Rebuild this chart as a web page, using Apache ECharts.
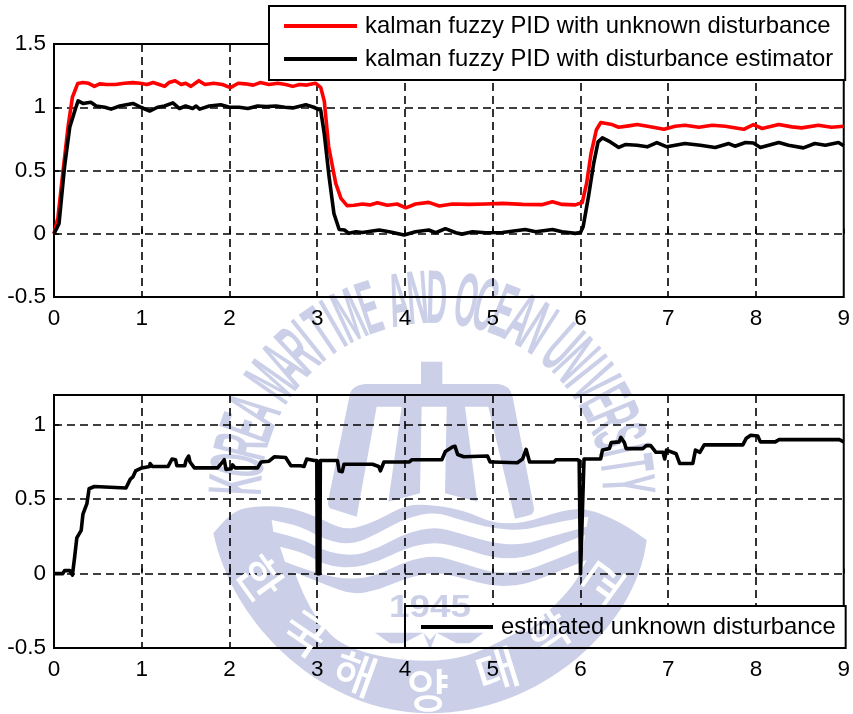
<!DOCTYPE html>
<html><head><meta charset="utf-8">
<style>html,body{margin:0;padding:0;background:#fff}#c{width:853px;height:714px}</style>
<script src="https://cdn.jsdelivr.net/npm/echarts@6/dist/echarts.min.js"></script>
</head><body><div id="c"></div>
<script>
const xTicks = {min:0,max:9,interval:1};
const redName = 'kalman fuzzy PID with unknown disturbance';
const blackName = 'kalman fuzzy PID with disturbance estimator';
const estName = 'estimated unknown disturbance';

const redTrace = [[0,0],[0.045,0.13],[0.1,0.476],[0.16,0.845],[0.21,1.08],[0.27,1.187],[0.33,1.195],[0.39,1.19],[0.46,1.165],[0.52,1.185],[0.6,1.18],[0.7,1.18],[0.8,1.19],[0.9,1.195],[0.98,1.19],[1.06,1.18],[1.13,1.195],[1.2,1.18],[1.26,1.165],[1.31,1.195],[1.38,1.21],[1.45,1.18],[1.5,1.19],[1.56,1.165],[1.65,1.21],[1.72,1.18],[1.82,1.19],[1.92,1.18],[2.01,1.155],[2.1,1.19],[2.18,1.185],[2.27,1.175],[2.35,1.195],[2.45,1.18],[2.55,1.19],[2.64,1.18],[2.72,1.165],[2.8,1.18],[2.88,1.175],[2.98,1.19],[3.04,1.155],[3.08,1.05],[3.13,0.69],[3.21,0.4],[3.27,0.28],[3.34,0.222],[3.42,0.225],[3.515,0.235],[3.6,0.228],[3.685,0.245],[3.8,0.225],[3.91,0.235],[4.01,0.205],[4.12,0.235],[4.27,0.248],[4.39,0.22],[4.54,0.235],[4.73,0.232],[4.92,0.235],[5.11,0.24],[5.34,0.232],[5.56,0.23],[5.68,0.253],[5.79,0.232],[5.94,0.228],[6.02,0.247],[6.07,0.4],[6.12,0.634],[6.18,0.82],[6.23,0.879],[6.36,0.863],[6.436,0.842],[6.55,0.853],[6.645,0.863],[6.78,0.848],[6.95,0.826],[7.08,0.85],[7.19,0.858],[7.35,0.842],[7.5,0.858],[7.65,0.85],[7.86,0.826],[7.97,0.863],[8.07,0.832],[8.26,0.863],[8.41,0.845],[8.52,0.837],[8.71,0.858],[8.86,0.842],[9,0.85]];

const blackTrace = [[0,0],[0.057,0.08],[0.12,0.53],[0.18,0.845],[0.25,1.0],[0.275,1.05],[0.33,1.03],[0.42,1.04],[0.48,1.01],[0.58,1.0],[0.65,0.985],[0.75,1.01],[0.9,1.03],[0.99,1.0],[1.09,0.97],[1.18,1.0],[1.26,1.01],[1.355,1.035],[1.43,0.99],[1.5,1.01],[1.58,0.99],[1.62,1.01],[1.66,0.985],[1.77,1.01],[1.9,1.02],[2.0,1.0],[2.11,1.0],[2.21,0.99],[2.32,1.01],[2.42,1.005],[2.53,1.01],[2.63,1.0],[2.72,0.995],[2.87,1.02],[2.96,1.0],[3.04,0.975],[3.08,0.79],[3.135,0.45],[3.19,0.16],[3.25,0.034],[3.31,0.03],[3.36,0.003],[3.44,0.016],[3.515,0.01],[3.705,0.03],[3.82,0.016],[3.99,-0.01],[4.12,0.016],[4.27,0.03],[4.35,0.008],[4.46,0.04],[4.58,0.008],[4.65,-0.003],[4.77,0.016],[4.92,0.008],[5.11,0.01],[5.37,0.034],[5.49,0.016],[5.68,0.034],[5.79,0.016],[5.94,0.003],[6.0,0.01],[6.03,0.055],[6.09,0.29],[6.15,0.555],[6.2,0.726],[6.25,0.758],[6.34,0.726],[6.436,0.682],[6.51,0.705],[6.645,0.7],[6.76,0.687],[6.87,0.721],[6.985,0.687],[7.19,0.713],[7.365,0.7],[7.535,0.682],[7.69,0.713],[7.76,0.692],[7.88,0.721],[7.97,0.718],[8.05,0.682],[8.26,0.721],[8.37,0.7],[8.54,0.679],[8.67,0.713],[8.79,0.7],[8.94,0.721],[9,0.695]];

const estimateTrace = [[0,0],[0.1,0],[0.12,0.02],[0.18,0.02],[0.21,-0.01],[0.235,0.11],[0.26,0.24],[0.31,0.29],[0.33,0.4],[0.375,0.47],[0.4,0.57],[0.46,0.585],[0.48,0.575],[0.82,0.575],[0.87,0.635],[0.9,0.65],[0.93,0.69],[1.0,0.71],[1.09,0.72],[1.095,0.74],[1.12,0.72],[1.3,0.72],[1.345,0.77],[1.385,0.765],[1.4,0.725],[1.49,0.725],[1.505,0.76],[1.535,0.79],[1.55,0.75],[1.57,0.76],[1.6,0.71],[1.865,0.71],[1.9,0.735],[1.94,0.765],[1.96,0.7],[2.02,0.705],[2.035,0.73],[2.05,0.735],[2.065,0.71],[2.32,0.71],[2.36,0.75],[2.45,0.755],[2.51,0.785],[2.64,0.78],[2.7,0.725],[2.81,0.725],[2.85,0.72],[2.88,0.77],[2.965,0.76],[2.995,0.76],[3.0,0],[3.03,0],[3.035,0.76],[3.23,0.76],[3.25,0.69],[3.285,0.685],[3.305,0.735],[3.63,0.735],[3.7,0.72],[3.72,0.69],[3.76,0.75],[4.05,0.75],[4.08,0.765],[4.42,0.765],[4.46,0.82],[4.54,0.85],[4.57,0.855],[4.6,0.8],[4.67,0.785],[4.94,0.79],[4.97,0.75],[5.0,0.75],[5.28,0.745],[5.34,0.77],[5.38,0.835],[5.42,0.75],[5.7,0.75],[5.72,0.765],[5.73,0.76],[5.96,0.765],[5.985,0.76],[6.0,0],[6.015,0],[6.04,0.77],[6.23,0.77],[6.25,0.83],[6.33,0.84],[6.35,0.88],[6.44,0.885],[6.46,0.915],[6.5,0.88],[6.52,0.84],[6.71,0.84],[6.75,0.86],[6.8,0.86],[6.86,0.815],[6.94,0.815],[6.96,0.77],[6.98,0.83],[7.09,0.805],[7.13,0.74],[7.28,0.74],[7.31,0.83],[7.36,0.815],[7.41,0.865],[7.85,0.865],[7.89,0.91],[7.94,0.93],[8.02,0.925],[8.05,0.885],[8.22,0.885],[8.26,0.9],[8.95,0.9],[9,0.885]];

const FONT = '"Liberation Sans", Arial, sans-serif';
const WM = '#cbd0e8';

// ---------- faint institutional seal behind the plot ----------
const wmScale = 1/3, wmX = 190, wmY = 260;
function curve(pts, move){
  let d = (move?'M':'L')+pts[0][0]+' '+pts[0][1];
  for (let i=1;i<pts.length-1;i++){
    const mx=(pts[i][0]+pts[i+1][0])/2, my=(pts[i][1]+pts[i+1][1])/2;
    d += 'Q'+pts[i][0]+' '+pts[i][1]+' '+mx+' '+my;
  }
  const e = pts[pts.length-1];
  return d+'L'+e[0]+' '+e[1];
}
function hole(top,bottom){ return curve(top.slice().reverse(),true)+curve(bottom,false)+'Z'; }
const anchor = 'M693 305H757V372H925Q960 375 968 410L1032 745Q1034 765 1010 768L975 776L895 440H825L862 725L765 700L770 440H695L690 700L595 725L635 440H560L500 770L420 745Q412 735 415 720L480 400Q490 375 525 372H693Z';
const sealTop = [[70,820],[110,770],[165,740],[285,738],[380,770],[450,805],[495,805],[565,780],[645,735],[720,733],[820,750],[910,790],[1000,790],[1120,750],[1190,745],[1290,785],[1370,840]];
const sealOuter = curve(sealTop,true)+'C1340 1100 1050 1360 720 1360C400 1360 130 1100 70 820Z';
const stripe1 = hole(
  [[245,780],[335,800],[405,840],[485,855],[565,820],[645,775],[735,755],[810,780],[910,805],[1000,812],[1080,790],[1195,770]],
  [[250,815],[335,835],[395,870],[485,890],[565,865],[645,820],[735,800],[810,820],[910,850],[1000,855],[1080,830],[1190,800]]);
const stripe2 = hole(
  [[270,860],[345,880],[405,915],[485,925],[565,905],[645,865],[735,845],[820,865],[910,895],[1000,895],[1080,865],[1185,825]],
  [[285,905],[375,940],[485,960],[565,945],[645,905],[735,885],[820,910],[910,940],[1000,935],[1080,905],[1180,865]]);
const stripe3 = hole(
  [[310,935],[385,965],[485,1005],[565,990],[645,955],[735,935],[820,955],[910,980],[1000,975],[1080,945],[1190,900]],
  [[315,940],[345,1020],[405,1110],[465,1160],[590,1195],[720,1205],[830,1190],[920,1150],[1050,1080],[1150,980],[1190,900]]);
const ship = 'M555 1118H700L640 1150H600ZM740 1118H880L840 1150H800ZM700 1118L720 1170L740 1118L720 1140Z';
[['wmAnchor',anchor],['wmSeal',sealOuter+stripe1+stripe2+stripe3],['wmShip',ship]].forEach(p=>echarts.graphic.registerShape(p[0],echarts.graphic.extendPath(p[1],{})));
function zoomPath(t){
  return {type:t, x:wmX, y:wmY, scaleX:wmScale, scaleY:wmScale, z:10, silent:true, style:{fill:WM, blend:'multiply'}};
}
const ringText = 'KOREA MARITIME AND OCEAN UNIVERSITY';
const cx = 432, cy = 494, R = 192;
function charW(c){return c===' '?0.55:c==='I'?0.55:c==='M'?1.25:1;}
const totalW = [...ringText].reduce((a,c)=>a+charW(c),0);
const startA = -Math.PI*1.0, span = Math.PI*1.0;
let acc = 0;
const ringEls = [];
for (const c of ringText){
  const w = charW(c), a = startA + span*(acc + w/2)/totalW; acc += w;
  if (c===' ') continue;
  ringEls.push({type:'text', x:cx+R*Math.cos(a), y:cy+R*Math.sin(a), rotation:-(a+Math.PI/2), scaleX:0.38,
    z:-1, silent:true,
    style:{text:c, fill:WM, font:'bold 76px '+FONT, textAlign:'center', textVerticalAlign:'middle'}});
}
const kor = [['한',260,578,-0.95],['국',305,633,-0.6],['해',355,673,-0.35],['양',428,690,0],['대',497,670,0.3],['학',548,632,0.6],['교',603,582,0.95]];
const korEls = kor.map(k=>({type:'text', x:k[1], y:k[2], rotation:k[3], z:11, silent:true,
  style:{text:k[0], fill:'#fff', font:'500 46px "Noto Sans CJK KR"', textAlign:'center', textVerticalAlign:'middle'}}));

const axisCommon = {
  axisLine:{show:false},
  axisTick:{show:true,inside:true,length:5,lineStyle:{color:'#000',width:1.5}},
  splitLine:{show:true,showMaxLine:false,lineStyle:{color:'#000',width:1.6,type:[8,5]}},
  axisLabel:{color:'#000',fontFamily:FONT,fontSize:22.5}
};
const lineCommon = {type:'line',symbol:'none',showSymbol:false,smooth:false,animation:false,clip:false};
const legendText = {color:'#000',fontFamily:FONT,fontSize:23.8,padding:[0,0,0,3]};

const chart = echarts.init(document.getElementById('c'),null,{renderer:'canvas'});
chart.setOption({
  animation:false,
  backgroundColor:'transparent',
  grid:[
    {left:54,right:7,top:44,height:253,show:true,borderColor:'#000',borderWidth:2,containLabel:false},
    {left:54,right:7,top:395,height:253,show:true,borderColor:'#000',borderWidth:2,containLabel:false}
  ],
  xAxis:[
    Object.assign({},axisCommon,{type:'value',gridIndex:0,min:xTicks.min,max:xTicks.max,interval:xTicks.interval,axisLabel:Object.assign({},axisCommon.axisLabel,{margin:10})}),
    Object.assign({},axisCommon,{type:'value',gridIndex:1,min:xTicks.min,max:xTicks.max,interval:xTicks.interval,axisLabel:Object.assign({},axisCommon.axisLabel,{margin:10})})
  ],
  yAxis:[
    Object.assign({},axisCommon,{type:'value',gridIndex:0,min:-0.5,max:1.5,interval:0.5,axisLabel:Object.assign({},axisCommon.axisLabel,{margin:8})}),
    Object.assign({},axisCommon,{type:'value',gridIndex:1,min:-0.5,max:1.2,interval:0.5,axisLabel:Object.assign({},axisCommon.axisLabel,{margin:8,showMaxLabel:false})})
  ],
  legend:[
    {z:13,data:[redName,blackName],orient:'vertical',left:269,top:6,padding:[8,12,9,15],icon:'rect',itemWidth:73,itemHeight:4,itemGap:9,
     borderColor:'#000',borderWidth:2,borderRadius:0,textStyle:legendText,selectedMode:false},
    {z:13,data:[estName],orient:'vertical',left:405,top:606,padding:[9,10,9,16],icon:'rect',itemWidth:72,itemHeight:4,
     borderColor:'#000',borderWidth:2,borderRadius:0,textStyle:legendText,selectedMode:false}
  ],
  series:[
    Object.assign({},lineCommon,{name:redName,xAxisIndex:0,yAxisIndex:0,data:redTrace,lineStyle:{color:'#ff0000',width:3.6,join:'round'},itemStyle:{color:'#ff0000'}}),
    Object.assign({},lineCommon,{name:blackName,xAxisIndex:0,yAxisIndex:0,data:blackTrace,lineStyle:{color:'#000',width:3.6,join:'round'},itemStyle:{color:'#000'}}),
    Object.assign({},lineCommon,{name:estName,xAxisIndex:1,yAxisIndex:1,data:estimateTrace,lineStyle:{color:'#000',width:3.6,join:'round'},itemStyle:{color:'#000'}})
  ],
  graphic:{elements:[
    {type:'rect',z:1,silent:true,shape:{x:269,y:6,width:577,height:74},style:{fill:'#fff'}},
    {type:'rect',z:1,silent:true,shape:{x:405,y:606,width:441,height:42},style:{fill:'#fff'}},
    ...ringEls,
    zoomPath('wmAnchor'), zoomPath('wmSeal'), zoomPath('wmShip'),
    {type:'text',x:430,y:608,z:10,silent:true,scaleX:1.15,style:{text:'1945',fill:WM,font:'bold 32px '+FONT,textAlign:'center',textVerticalAlign:'middle'}},
    ...korEls
  ]}
});
</script></body></html>
